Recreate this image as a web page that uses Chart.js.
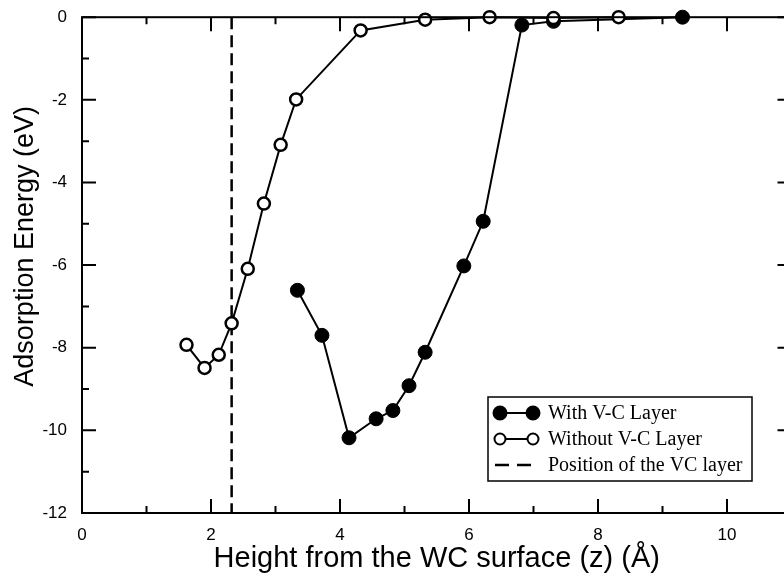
<!DOCTYPE html>
<html>
<head>
<meta charset="utf-8">
<script src="https://cdn.jsdelivr.net/npm/chart.js@4"></script>
<style>
  html, body { margin: 0; padding: 0; background: #fff; overflow: hidden; }
  #wrap { width: 800px; height: 577px; }
</style>
</head>
<body>
<div id="wrap"><canvas id="chart" width="800" height="577"></canvas></div>
<script>
// Heights (Å) and adsorption energies (eV)
const withZ = [3.34, 3.72, 4.14, 4.56, 4.82, 5.07, 5.32, 5.92, 6.22, 6.82, 7.31, 9.31];
const withE = [-6.61, -7.70, -10.18, -9.72, -9.52, -8.92, -8.11, -6.02, -4.94, -0.19, -0.10, 0.0];

const withoutZ = [1.62, 1.90, 2.12, 2.32, 2.57, 2.82, 3.08, 3.32, 4.32, 5.32, 6.32, 7.31, 8.32];
const withoutE = [-7.93, -8.49, -8.17, -7.41, -6.09, -4.51, -3.09, -1.99, -0.32, -0.06, 0.0, -0.02, 0.0];

const vcLayerZ = 2.32;

const xTicks = [0, 2, 4, 6, 8, 10];
const yTicks = [-12, -10, -8, -6, -4, -2, 0];
const xMinor = [1, 3, 5, 7, 9];
const yMinor = [-11, -9, -7, -5, -3, -1];

const legendLabels = ['With V-C Layer', 'Without V-C Layer', 'Position of the VC layer'];

const toPoints = (xs, ys) => xs.map((x, i) => ({ x: x, y: ys[i] }));

// frame with inward ticks on all four sides
const framePlugin = {
  id: 'frame',
  afterDatasetsDraw(chart) {
    const { ctx, chartArea: a, scales: { x, y } } = chart;
    ctx.save();
    ctx.strokeStyle = '#000';
    ctx.lineWidth = 2;
    ctx.strokeRect(a.left, a.top, a.right - a.left, a.bottom - a.top);
    ctx.beginPath();
    const tick = (vals, len) => {
      vals.forEach(v => {
        const px = x.getPixelForValue(v);
        ctx.moveTo(px, a.bottom); ctx.lineTo(px, a.bottom - len);
        ctx.moveTo(px, a.top); ctx.lineTo(px, a.top + len);
      });
    };
    const ytick = (vals, len) => {
      vals.forEach(v => {
        const py = y.getPixelForValue(v);
        ctx.moveTo(a.left, py); ctx.lineTo(a.left + len, py);
        ctx.moveTo(a.right, py); ctx.lineTo(a.right - len, py);
      });
    };
    tick(xTicks, 14); tick(xMinor, 7);
    ytick(yTicks, 14); ytick(yMinor, 7);
    ctx.stroke();
    ctx.restore();
  }
};

// boxed legend with marker-line-marker symbols
const legendPlugin = {
  id: 'boxLegend',
  afterDraw(chart) {
    const { ctx } = chart;
    const bx = 488, by = 397, bw = 264, bh = 84;
    ctx.save();
    ctx.fillStyle = '#fff';
    ctx.fillRect(bx, by, bw, bh);
    ctx.strokeStyle = '#000';
    ctx.lineWidth = 1.5;
    ctx.strokeRect(bx, by, bw, bh);
    ctx.font = '20px "Liberation Serif", "DejaVu Serif", serif';
    ctx.textBaseline = 'middle';
    ctx.fillStyle = '#000';
    legendLabels.forEach((label, i) => {
      const cy = by + 16 + i * 26;
      ctx.lineWidth = 2;
      ctx.strokeStyle = '#000';
      if (i < 2) {
        ctx.beginPath();
        ctx.moveTo(500, cy); ctx.lineTo(533, cy);
        ctx.stroke();
        [500, 533].forEach(cx => {
          ctx.beginPath();
          ctx.arc(cx, cy, i === 0 ? 6.5 : 5.5, 0, Math.PI * 2);
          ctx.fillStyle = i === 0 ? '#000' : '#fff';
          ctx.fill();
          ctx.stroke();
        });
      } else {
        ctx.lineWidth = 2.5;
        ctx.setLineDash([14, 8]);
        ctx.beginPath();
        ctx.moveTo(495, cy); ctx.lineTo(533, cy);
        ctx.stroke();
        ctx.setLineDash([]);
      }
      ctx.fillStyle = '#000';
      ctx.fillText(label, 548, cy + 1);
    });
    ctx.restore();
  }
};

new Chart(document.getElementById('chart'), {
  type: 'scatter',
  data: {
    datasets: [
      {
        label: legendLabels[2],
        data: [{ x: vcLayerZ, y: 0 }, { x: vcLayerZ, y: -12 }],
        showLine: true,
        borderColor: '#000',
        borderWidth: 2.5,
        borderDash: [12, 6],
        pointRadius: 0,
        order: 3
      },
      {
        label: legendLabels[0],
        data: toPoints(withZ, withE),
        showLine: true,
        borderColor: '#000',
        borderWidth: 2,
        backgroundColor: '#000',
        pointRadius: 7,
        pointBorderWidth: 1,
        pointBorderColor: '#000',
        pointBackgroundColor: '#000',
        order: 2
      },
      {
        label: legendLabels[1],
        data: toPoints(withoutZ, withoutE),
        showLine: true,
        borderColor: '#000',
        borderWidth: 2,
        pointRadius: 6,
        pointBorderWidth: 2.5,
        pointBorderColor: '#000',
        pointBackgroundColor: '#fff',
        order: 1
      }
    ]
  },
  options: {
    responsive: false,
    devicePixelRatio: 1,
    animation: false,
    clip: false,
    layout: { padding: { top: 15, right: 7, left: 0, bottom: 0 } },
    plugins: {
      legend: { display: false },
      tooltip: { enabled: false }
    },
    scales: {
      x: {
        type: 'linear',
        min: 0,
        max: 11,
        afterBuildTicks: s => { s.ticks = xTicks.map(v => ({ value: v })); },
        afterFit: s => { s.height = 64; },
        grid: { display: false },
        border: { display: false },
        ticks: {
          color: '#000',
          padding: 4,
          maxRotation: 0,
          font: { family: '"Liberation Sans", Arial, sans-serif', size: 17 }
        },
        title: {
          display: true,
          text: 'Height from the WC surface (z) (Å)',
          color: '#000',
          padding: { top: 0, bottom: 1 },
          font: { family: '"Liberation Sans", Arial, sans-serif', size: 29 }
        }
      },
      y: {
        type: 'linear',
        min: -12,
        max: 0,
        afterBuildTicks: s => { s.ticks = yTicks.map(v => ({ value: v })); },
        afterFit: s => { s.width = 82; },
        grid: { display: false },
        border: { display: false },
        ticks: {
          color: '#000',
          padding: 7,
          font: { family: '"Liberation Sans", Arial, sans-serif', size: 17 }
        },
        title: {
          display: true,
          text: '     Adsorption Energy (eV)',
          color: '#000',
          padding: { top: 9, bottom: 0 },
          font: { family: '"Liberation Sans", Arial, sans-serif', size: 27 }
        }
      }
    }
  },
  plugins: [framePlugin, legendPlugin]
});
</script>
</body>
</html>
